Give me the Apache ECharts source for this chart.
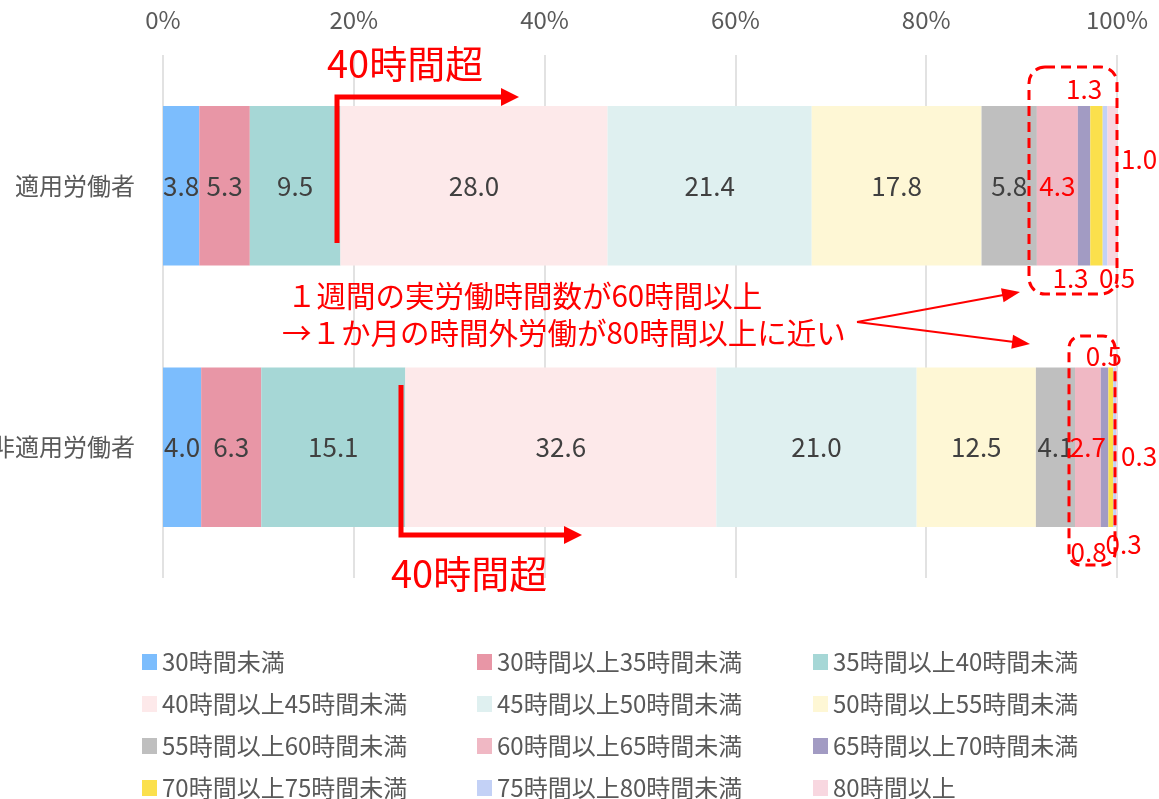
<!DOCTYPE html>
<html>
<head>
<meta charset="utf-8">
<script src="https://cdn.jsdelivr.net/npm/echarts@6/dist/echarts.min.js"></script>
<style>
  html, body { margin: 0; padding: 0; background: #fff; }
  #chart { width: 1159px; height: 799px; }
</style>
</head>
<body>
<div id="chart"></div>
<script>
// カテゴリ
const categories = ['適用労働者', '非適用労働者'];

// 労働時間区分（凡例）
const hourBands = [
  '30時間未満', '30時間以上35時間未満', '35時間以上40時間未満',
  '40時間以上45時間未満', '45時間以上50時間未満', '50時間以上55時間未満',
  '55時間以上60時間未満', '60時間以上65時間未満', '65時間以上70時間未満',
  '70時間以上75時間未満', '75時間以上80時間未満', '80時間以上'
];

// 構成比（%）
const appliedShares = [3.8, 5.3, 9.5, 28.0, 21.4, 17.8, 5.8, 4.3, 1.3, 1.3, 0.5, 1.0];
const nonAppliedShares = [4.0, 6.3, 15.1, 32.6, 21.0, 12.5, 4.1, 2.7, 0.8, 0.5, 0.3, 0.3];

const xTicks = [0, 20, 40, 60, 80, 100];

const colors = [
  '#7cbdfd', '#e896a6', '#a6d7d6', '#fde9ea', '#dff0f0', '#fef7d5',
  '#bfbfbf', '#f0b8c4', '#a29bc3', '#fbe04c', '#c3d1f6', '#f8d7e0'
];

const RED = '#ff0000';
const FONT = 'Noto Sans CJK JP';

// 小さい区分のラベル（赤字、棒の外側に配置）
const outsideLabels = {
  8:  [{ position: 'top', offset: [0, 0] },      { position: 'bottom', offset: [-16, 8] }],
  9:  [{ position: 'bottom', offset: [-26, -4] }, { position: 'top', offset: [-7, 6] }],
  10: [{ position: 'bottom', offset: [12, -4] },  { position: 'bottom', offset: [9, 0] }],
  11: [{ position: 'right', offset: [0, -27] },   { position: 'right', offset: [0, 9] }]
};

const series = hourBands.map((name, i) => {
  const values = [appliedShares[i], nonAppliedShares[i]];
  return {
    name: name,
    type: 'bar',
    stack: 'total',
    barWidth: '61%',
    itemStyle: { color: colors[i] },
    label: {
      show: true,
      position: 'inside',
      fontSize: 26,
      fontFamily: FONT,
      color: i === 7 ? RED : '#404040',
      formatter: (p) => p.value.toFixed(1)
    },
    data: values.map((v, k) => {
      if (!outsideLabels[i]) return v;
      const cfg = outsideLabels[i][k];
      return {
        value: v,
        label: { position: cfg.position, offset: cfg.offset, distance: 4, color: RED }
      };
    })
  };
});

// 凡例は3列
const legendCols = [137, 472, 808].map((left, c) => ({
  orient: 'vertical',
  left: left,
  top: 645,
  height: 160,
  icon: 'rect',
  itemWidth: 15,
  itemHeight: 16,
  itemGap: 18,
  textStyle: { fontSize: 24, color: '#595959', fontFamily: FONT, lineHeight: 24 },
  data: hourBands.filter((_, i) => i % 3 === c)
}));

function arrowHead(x1, y1, x2, y2, len, half) {
  const a = Math.atan2(y2 - y1, x2 - x1);
  const bx = x2 - len * Math.cos(a), by = y2 - len * Math.sin(a);
  return [[x2, y2],
    [bx + half * Math.sin(a), by - half * Math.cos(a)],
    [bx - half * Math.sin(a), by + half * Math.cos(a)]];
}

function thinArrow(x1, y1, x2, y2) {
  const a = Math.atan2(y2 - y1, x2 - x1);
  return [
    { type: 'line', z: 100, shape: { x1: x1, y1: y1, x2: x2 - 14 * Math.cos(a), y2: y2 - 14 * Math.sin(a) },
      style: { stroke: RED, lineWidth: 2 } },
    { type: 'polygon', z: 100, shape: { points: arrowHead(x1, y1, x2, y2, 18, 7) }, style: { fill: RED } }
  ];
}

const txt = (x, y, text, size) => ({
  type: 'text', x: x, y: y, z: 100,
  style: { text: text, fill: RED, fontSize: size, fontFamily: FONT,
    textAlign: 'left', textVerticalAlign: 'middle' }
});

const graphics = [
  // 上段 40時間超
  { type: 'polyline', z: 100, shape: { points: [[337, 243], [337, 97], [503, 97]] },
    style: { stroke: RED, lineWidth: 5, fill: null } },
  { type: 'polygon', z: 100, shape: { points: [[519, 97], [501, 88], [501, 106]] }, style: { fill: RED } },
  txt(327, 64, '40時間超', 38),
  // 下段 40時間超
  { type: 'polyline', z: 100, shape: { points: [[401, 385], [401, 535], [566, 535]] },
    style: { stroke: RED, lineWidth: 5, fill: null } },
  { type: 'polygon', z: 100, shape: { points: [[582, 535], [564, 526], [564, 544]] }, style: { fill: RED } },
  txt(391, 574, '40時間超', 38),
  // 注記
  txt(287, 296, '１週間の実労働時間数が60時間以上', 29.5),
  txt(282, 333, '→１か月の時間外労働が80時間以上に近い', 29.5),
  ...thinArrow(857, 322, 1020, 292),
  ...thinArrow(857, 322, 1030, 344),
  // 点線枠
  { type: 'rect', z: 100, shape: { x: 1029, y: 67, width: 88, height: 227, r: 16 },
    style: { stroke: RED, lineWidth: 3, lineDash: [10, 6], fill: null } },
  { type: 'rect', z: 100, shape: { x: 1069, y: 336, width: 46, height: 229, r: 12 },
    style: { stroke: RED, lineWidth: 3, lineDash: [10, 6], fill: null } }
];

const chart = echarts.init(document.getElementById('chart'));
chart.setOption({
  animation: false,
  backgroundColor: '#fff',
  grid: { left: 163, right: 42, top: 55, bottom: 221, outerBoundsMode: 'none', containLabel: false },
  xAxis: {
    type: 'value',
    position: 'top',
    min: xTicks[0],
    max: xTicks[xTicks.length - 1],
    interval: xTicks[1] - xTicks[0],
    axisLine: { show: false },
    axisTick: { show: false },
    axisLabel: { formatter: '{value}%', fontSize: 24, color: '#595959', margin: 23, fontFamily: FONT },
    splitLine: { lineStyle: { color: '#d9d9d9', width: 1.5 } }
  },
  yAxis: {
    type: 'category',
    inverse: true,
    data: categories,
    axisLine: { show: false },
    axisTick: { show: false },
    axisLabel: { fontSize: 24, color: '#595959', margin: 28, fontFamily: FONT }
  },
  legend: legendCols,
  series: series,
  graphic: graphics
});
</script>
</body>
</html>
